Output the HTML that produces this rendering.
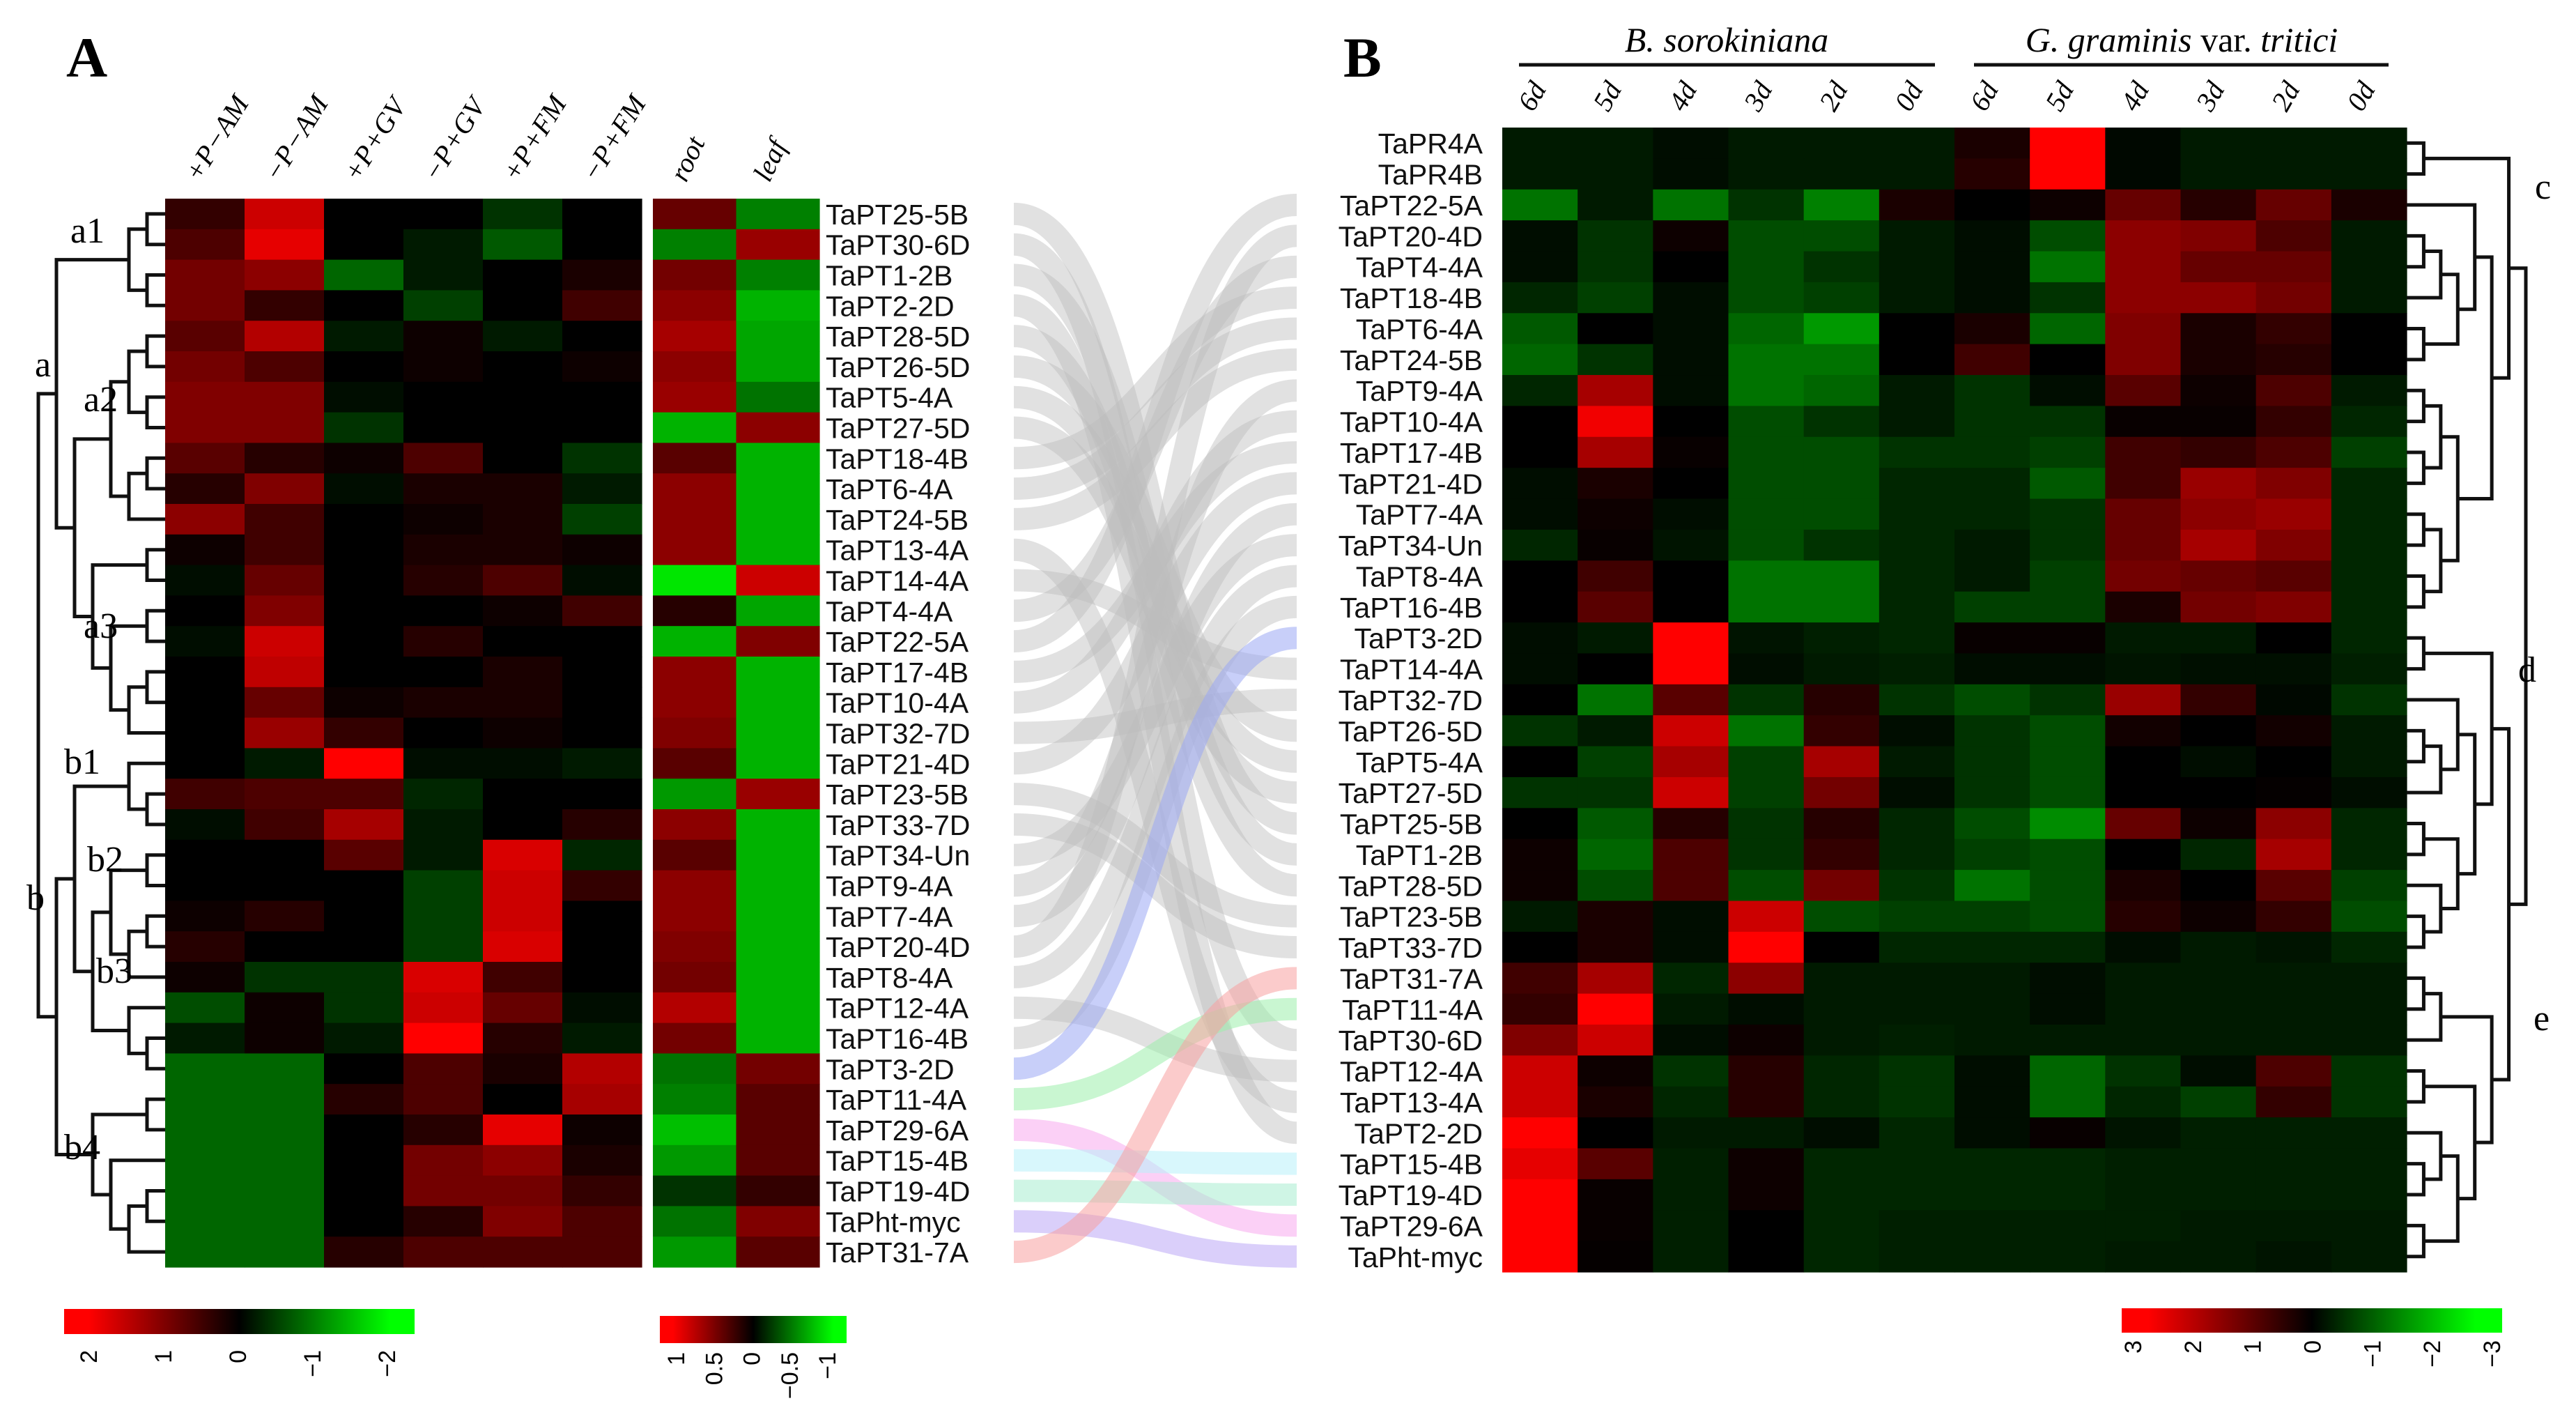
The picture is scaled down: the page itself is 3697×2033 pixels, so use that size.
<!DOCTYPE html>
<html><head><meta charset="utf-8"><style>
html,body{margin:0;padding:0;background:#fff}
svg{display:block}
.g{font-family:"Liberation Sans",sans-serif;font-size:41px;fill:#111}
.s{font-family:"Liberation Serif",serif}
</style></head><body>
<svg id="fig" width="3697" height="2033" viewBox="0 0 3697 2033" xmlns="http://www.w3.org/2000/svg">
<defs>
<linearGradient id="gradA" x1="0" x2="1"><stop offset="0.07" stop-color="#ff0000"/><stop offset="0.5" stop-color="#000"/><stop offset="0.93" stop-color="#00ff00"/></linearGradient>
</defs>
<g id="ribbons"></g>
<g id="hmA"></g>
<g id="hmRL"></g>
<g id="hmB"></g>
<g id="dendA" fill="none" stroke="#111" stroke-width="5"></g>
<g id="dendB" fill="none" stroke="#111" stroke-width="5"></g>
<g id="labels"></g>
<text class="s" x="95" y="110" font-size="82" font-weight="bold">A</text>
<text class="s" x="1928" y="110" font-size="82" font-weight="bold">B</text>
<text class="s" x="2478" y="74" font-size="50" font-style="italic" text-anchor="middle">B. sorokiniana</text>
<line x1="2180" x2="2777" y1="93" y2="93" stroke="#111" stroke-width="5"/>
<text class="s" x="3131" y="74" font-size="50" font-style="italic" text-anchor="middle">G. graminis <tspan font-style="normal">var.</tspan> tritici</text>
<line x1="2833" x2="3428" y1="93" y2="93" stroke="#111" stroke-width="5"/>
<rect x="92" y="1878" width="503" height="36" fill="url(#gradA)"/>
<rect x="947" y="1888" width="268" height="39" fill="url(#gradA)"/>
<rect x="3045" y="1877" width="546" height="35" fill="url(#gradA)"/>
<g id="legendTicks"></g>
</svg>
<script>
const NS="http://www.w3.org/2000/svg";
function mk(tag,attrs,parent){const e=document.createElementNS(NS,tag);for(const k in attrs)e.setAttribute(k,attrs[k]);parent.appendChild(e);return e;}
// ---- data ----
const genesA=["TaPT25-5B","TaPT30-6D","TaPT1-2B","TaPT2-2D","TaPT28-5D","TaPT26-5D","TaPT5-4A","TaPT27-5D","TaPT18-4B","TaPT6-4A","TaPT24-5B","TaPT13-4A","TaPT14-4A","TaPT4-4A","TaPT22-5A","TaPT17-4B","TaPT10-4A","TaPT32-7D","TaPT21-4D","TaPT23-5B","TaPT33-7D","TaPT34-Un","TaPT9-4A","TaPT7-4A","TaPT20-4D","TaPT8-4A","TaPT12-4A","TaPT16-4B","TaPT3-2D","TaPT11-4A","TaPT29-6A","TaPT15-4B","TaPT19-4D","TaPht-myc","TaPT31-7A"];
const condA=["+P−AM","−P−AM","+P+GV","−P+GV","+P+FM","−P+FM"];
const valsA=[
[0.4,1.6,0,0,-0.4,0],[0.6,1.8,0,-0.2,-0.7,0],[0.9,1.1,-0.8,-0.2,0,0.2],[0.9,0.4,0,-0.5,0,0.5],
[0.7,1.4,-0.2,0.1,-0.2,0],[0.9,0.6,0,0.1,0,0.1],[1.0,1.0,-0.1,0,0,0],[1.0,1.0,-0.4,0,0,0],
[0.7,0.3,0.1,0.6,0,-0.4],[0.3,1.0,-0.1,0.2,0.2,-0.2],[1.1,0.5,0,0.1,0.2,-0.5],[0.1,0.5,0,0.2,0.2,0.1],
[-0.1,0.8,0,0.3,0.6,-0.1],[0,1.0,0,0,0.1,0.5],[-0.1,1.6,0,0.3,0,0],[0,1.5,0,0,0.2,0],
[0,0.8,0.1,0.2,0.2,0],[0,1.2,0.4,0,0.1,0],[0,-0.2,2.0,-0.1,-0.1,-0.2],[0.5,0.6,0.6,-0.3,0,0],
[-0.1,0.5,1.3,-0.2,0,0.3],[0,0,0.7,-0.2,1.7,-0.3],[0,0,0,-0.5,1.6,0.4],[0.1,0.3,0,-0.5,1.6,0],
[0.3,0,0,-0.5,1.7,0],[0.1,-0.4,-0.4,1.7,0.5,0],[-0.6,0.1,-0.4,1.6,0.8,-0.1],[-0.2,0.1,-0.2,2.0,0.3,-0.2],
[-0.8,-0.8,0,0.6,0.2,1.4],[-0.8,-0.8,0.3,0.6,0,1.3],[-0.8,-0.8,0,0.3,1.8,0.1],[-0.8,-0.8,0,0.9,1.1,0.2],
[-0.8,-0.8,0,0.9,0.9,0.4],[-0.8,-0.8,0,0.3,1.0,0.6],[-0.8,-0.8,0.3,0.6,0.6,0.6]];
const tissues=["root","leaf"];
const rootVals=[.4,-.5,.45,.55,.65,.55,.6,-.7,.35,.55,.55,.55,-.9,.15,-.7,.55,.55,.5,.35,-.6,.55,.35,.55,.55,.5,.45,.7,.45,-.45,-.5,-.75,-.6,-.2,-.45,-.6];
const leafVals=[-.5,.6,-.5,-.7,-.65,-.65,-.45,.55,-.7,-.7,-.7,-.7,.8,-.65,.5,-.7,-.7,-.7,-.7,.6,-.7,-.7,-.7,-.7,-.7,-.7,-.7,-.7,.45,.35,.35,.35,.2,.5,.35];
const genesB=["TaPR4A","TaPR4B","TaPT22-5A","TaPT20-4D","TaPT4-4A","TaPT18-4B","TaPT6-4A","TaPT24-5B","TaPT9-4A","TaPT10-4A","TaPT17-4B","TaPT21-4D","TaPT7-4A","TaPT34-Un","TaPT8-4A","TaPT16-4B","TaPT3-2D","TaPT14-4A","TaPT32-7D","TaPT26-5D","TaPT5-4A","TaPT27-5D","TaPT25-5B","TaPT1-2B","TaPT28-5D","TaPT23-5B","TaPT33-7D","TaPT31-7A","TaPT11-4A","TaPT30-6D","TaPT12-4A","TaPT13-4A","TaPT2-2D","TaPT15-4B","TaPT19-4D","TaPT29-6A","TaPht-myc"];
const daysB=["6d","5d","4d","3d","2d","0d","6d","5d","4d","3d","2d","0d"];
const valsB=[
[-.1,-.1,-.05,-.1,-.1,-.1,.1,1,-.03,-.1,-.1,-.1],[-.1,-.1,-.05,-.1,-.1,-.1,.15,1,-.03,-.1,-.1,-.1],
[-.45,-.1,-.45,-.2,-.5,.1,0,.05,.4,.15,.4,.1],[-.05,-.2,.05,-.3,-.3,-.1,-.05,-.3,.55,.5,.3,-.1],
[-.05,-.2,0,-.3,-.2,-.1,-.05,-.45,.55,.4,.4,-.1],[-.15,-.25,-.05,-.3,-.25,-.1,-.05,-.2,.55,.55,.45,-.1],
[-.35,0,-.05,-.4,-.6,0,.1,-.4,.5,.1,.2,0],[-.4,-.2,-.05,-.45,-.45,0,.25,0,.5,.1,.15,0],
[-.15,.65,-.05,-.45,-.4,-.1,-.2,-.05,.35,.05,.3,-.1],[0,.95,0,-.3,-.2,-.1,-.2,-.2,.03,.03,.2,-.15],
[0,.65,.03,-.3,-.3,-.2,-.2,-.25,.25,.2,.3,-.25],[-.05,.1,0,-.3,-.3,-.15,-.15,-.35,.25,.6,.5,-.15],
[-.05,.05,-.05,-.3,-.3,-.15,-.15,-.2,.4,.55,.6,-.15],[-.15,.03,-.08,-.3,-.2,-.15,-.1,-.2,.4,.65,.5,-.15],
[0,.25,0,-.45,-.45,-.15,-.1,-.25,.45,.4,.35,-.15],[0,.35,0,-.45,-.45,-.15,-.25,-.25,.1,.45,.5,-.15],
[-.05,-.1,1,-.08,-.12,-.15,.03,.03,-.1,-.1,0,-.15],[-.05,0,1,-.05,-.1,-.12,-.05,-.05,-.08,-.06,-.06,-.12],
[0,-.45,.35,-.2,.15,-.2,-.3,-.2,.6,.2,-.03,-.2],[-.2,-.1,.8,-.45,.2,-.05,-.2,-.3,.07,0,.07,-.1],
[0,-.25,.65,-.25,.65,-.1,-.2,-.3,0,-.05,0,-.1],[-.2,-.2,.8,-.25,.45,-.05,-.2,-.3,0,0,.02,-.05],
[0,-.35,.15,-.2,.15,-.15,-.3,-.55,.4,.05,.55,-.15],[.05,-.4,.3,-.2,.2,-.15,-.25,-.3,0,-.15,.65,-.15],
[.05,-.3,.3,-.3,.45,-.2,-.45,-.3,.1,0,.35,-.25],[-.1,.1,-.05,.8,-.3,-.25,-.25,-.3,.15,.05,.2,-.3],
[0,.1,-.05,1,0,-.15,-.15,-.15,-.05,-.1,-.08,-.15],[.25,.65,-.15,.55,-.1,-.1,-.1,-.05,-.1,-.1,-.1,-.1],
[.2,1,-.1,-.05,-.1,-.1,-.1,-.05,-.1,-.1,-.1,-.1],[.5,.8,-.05,.05,-.1,-.12,-.1,-.1,-.1,-.1,-.1,-.1],
[.8,.05,-.2,.15,-.15,-.2,-.05,-.4,-.2,-.05,.3,-.2],[.8,.1,-.15,.15,-.15,-.2,-.05,-.4,-.15,-.25,.2,-.2],
[1,0,-.1,-.1,-.05,-.15,-.05,.03,-.08,-.12,-.12,-.12],[.9,.35,-.12,.05,-.15,-.15,-.15,-.15,-.12,-.12,-.12,-.12],
[1,.03,-.12,.05,-.15,-.15,-.15,-.15,-.12,-.12,-.12,-.12],[1,.03,-.12,0,-.15,-.12,-.12,-.12,-.12,-.1,-.1,-.1],
[1,.02,-.12,0,-.15,-.12,-.12,-.12,-.1,-.1,-.08,-.1]];
const treeA=[[[[0,1],[2,3]],[[[[4,5],[6,7]],[[8,9],10]],[[11,12],[[13,14],[[15,16],17]]]]],[[[18,[19,20]],[[[21,22],[[23,24],25]],[26,[27,28]]]],[[29,30],[31,[[32,33],34]]]]];
const treeB=[[[0,1],[[2,[[[3,4],5],[6,7]]],[[[8,9],[10,11]],[[12,13],[14,15]]]]],[[[16,17],[[18,[[19,20],21]],[[22,23],[24,[25,26]]]]],[[[27,28],29],[[30,31],[[32,[33,34]],[35,36]]]]]];
const ribbonColors={"TaPT3-2D":"#9aa8f4","TaPT11-4A":"#9cefac","TaPT29-6A":"#f7aaee","TaPT15-4B":"#b8f0fa","TaPT19-4D":"#a8ecd0","TaPht-myc":"#bca8f6","TaPT31-7A":"#f8a0a0"};
const legA=["2","1","0","−1","−2"],legT=["1","0.5","0","−0.5","−1"],legB=["3","2","1","0","−1","−2","−3"];
// ---- scales ----
const A={x0:237,x1:921,y0:285,y1:1818},RL={x0:937,x1:1176};
const B={x0:2156,x1:3454,y0:183,y1:1825};
const rhA=(A.y1-A.y0)/genesA.length, cwA=(A.x1-A.x0)/condA.length, cwRL=(RL.x1-RL.x0)/2;
const rhB=(B.y1-B.y0)/genesB.length, cwB=(B.x1-B.x0)/daysB.length;
const yA=i=>A.y0+i*rhA, yB=i=>B.y0+i*rhB;
function col(v){v=Math.max(-1,Math.min(1,v));const c=Math.round(Math.abs(v)*255);return v>=0?`rgb(${c},0,0)`:`rgb(0,${c},0)`;}
const gA=document.getElementById('hmA'),gRL=document.getElementById('hmRL'),gB=document.getElementById('hmB'),lab=document.getElementById('labels');
valsA.forEach((row,i)=>row.forEach((v,j)=>{const r=mk('rect',{x:A.x0+j*cwA,y:yA(i),width:cwA+0.6,height:rhA+0.6,fill:col(v/2)},gA);

}));
[rootVals,leafVals].forEach((arr,j)=>arr.forEach((v,i)=>{const r=mk('rect',{x:RL.x0+j*cwRL,y:yA(i),width:cwRL+0.6,height:rhA+0.6,fill:col(v)},gRL);

}));
valsB.forEach((row,i)=>row.forEach((v,j)=>{const r=mk('rect',{x:B.x0+j*cwB,y:yB(i),width:cwB+0.6,height:rhB+0.6,fill:col(v)},gB);

}));
// labels
genesA.forEach((g,i)=>{const t=mk('text',{x:1185,y:yA(i)+rhA/2+15,class:'g'},lab);t.textContent=g;

});
genesB.forEach((g,i)=>{const t=mk('text',{x:2128,y:yB(i)+rhB/2+15,class:'g','text-anchor':'end'},lab);t.textContent=g;

});
condA.forEach((c,j)=>{const x=A.x0+(j+0.5)*cwA-8,y=263;const t=mk('text',{x:x,y:y,class:'s','font-size':40,'font-style':'italic',transform:`rotate(-58 ${x} ${y})`},lab);t.textContent=c;

});
tissues.forEach((c,j)=>{const x=RL.x0+(j+0.5)*cwRL-12,y=263;const t=mk('text',{x:x,y:y,class:'s','font-size':40,'font-style':'italic',transform:`rotate(-65 ${x} ${y})`},lab);t.textContent=c;

});
daysB.forEach((c,j)=>{const x=B.x0+(j+0.5)*cwB-10,y=162;const t=mk('text',{x:x,y:y,class:'s','font-size':40,'font-style':'italic',transform:`rotate(-60 ${x} ${y})`},lab);t.textContent=c;

});
// ribbons
const rg=document.getElementById('ribbons');
genesA.forEach((g,i)=>{const j=genesB.indexOf(g);if(j<0)return;const ya=yA(i)+rhA/2,yb=yB(j)+rhB/2,xa=1455,xb=1861,xm=(xa+xb)/2;
const c=ribbonColors[g]||'#bdbdbd';
const p=mk('path',{d:`M${xa},${ya} C${xm},${ya} ${xm},${yb} ${xb},${yb}`,fill:'none',stroke:c,'stroke-width':32,'stroke-opacity':ribbonColors[g]?0.55:0.45},rg);

});
// dendrograms
function height(t){return Array.isArray(t)?1+Math.max(height(t[0]),height(t[1])):0;}
function drawTree(t,g,posOf,xOf){
 if(!Array.isArray(t))return [posOf(t),0];
 const a=drawTree(t[0],g,posOf,xOf),b=drawTree(t[1],g,posOf,xOf),h=Math.max(a[1],b[1])+1,X=xOf(h);
 const p=mk('path',{d:`M${xOf(a[1])},${a[0]} H${X} V${b[0]} H${xOf(b[1])}`},g);
 
 
 return [(a[0]+b[0])/2,h];}
const hA=height(treeA),hB=height(treeB);
drawTree(treeA,document.getElementById('dendA'),i=>yA(i)+rhA/2,h=>h===0?A.x0:A.x0-h*(A.x0-55)/hA);
drawTree(treeB,document.getElementById('dendB'),i=>yB(i)+rhB/2,h=>h===0?B.x1:B.x1+h*(3625-B.x1)/hB);
// cluster labels
[["a1",101,348],["a",50,540],["a2",120,590],["a3",120,915],["b1",92,1110],["b",38,1305],["b2",125,1250],["b3",138,1410],["b4",92,1663],["c",3638,285],["d",3614,978],["e",3636,1478]].forEach(([s,x,y])=>{
 const t=mk('text',{x:x,y:y,class:'s','font-size':52},lab);t.textContent=s;
 
 });
// legend ticks
const lt=document.getElementById('legendTicks');
function ticks(arr,x0,x1,y,pref){arr.forEach((s,k)=>{const x=x0+(x1-x0)*k/(arr.length-1)+12;
 const t=mk('text',{x:x,y:y,'font-family':'Liberation Sans, sans-serif','font-size':34,'text-anchor':'end',transform:`rotate(-90 ${x} ${y})`},lt);t.textContent=s;
 
 });}
ticks(legA,127,555,1937,'legend-a');
ticks(legT,970,1187,1940,'legend-tissue');
ticks(legB,3061,3576,1923,'legend-b');
</script>
</body></html>
